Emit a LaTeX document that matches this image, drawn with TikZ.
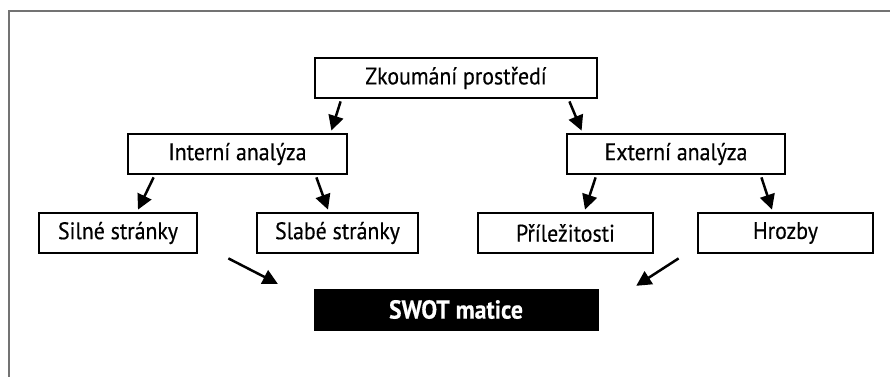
\documentclass[tikz,border=0pt]{standalone}
\usepackage{fontspec}
\setmainfont[FakeStretch=0.91,FakeBold=0.4,BoldFont={PT Sans Bold},BoldFeatures={FakeStretch=0.91}]{PT Sans}
\usetikzlibrary{arrows.meta}
\begin{document}
\begin{tikzpicture}[x=1pt,y=-1pt,
  box/.style={draw=black,line width=2.8pt,inner sep=0pt,minimum height=40pt,font=\fontsize{24}{28}\selectfont},
  conn/.style={line width=2.5pt,-{Triangle[length=15pt,width=15pt]}},
  frame/.style={draw=black!55,line width=1.5pt}]
\useasboundingbox (0,0) rectangle (890,376);
\draw[frame] (9,380) -- (9,11) -- (895,11);
\node[box,minimum width=282pt] (zk) at (456,78) {Zkoumání prostředí};
\node[box,minimum width=219pt] (int) at (237.5,154) {Interní analýza};
\node[box,minimum width=218pt] (ext) at (676,154) {Externí analýza};
\node[box,minimum width=158pt] (sil) at (118,233) {Silné stránky};
\node[box,minimum width=161pt] (sla) at (337.5,233) {Slabé stránky};
\node[box,minimum width=175pt] (pri) at (565.5,233) {Příležitosti};
\node[box,minimum width=175pt] (hro) at (785.5,233) {Hrozby};
\node[fill=black,draw=black,minimum width=284pt,minimum height=41pt,inner sep=0pt,
  text=white,font=\fontsize{26}{30}\selectfont\bfseries] (swot) at (456,309.5)
  {SWOT matice};
\draw[conn] ([xshift=27pt,yshift=-2pt]zk.south west) -- ([xshift=-17pt,yshift=2pt]int.north east);
\draw[conn] ([xshift=-29pt,yshift=-2pt]zk.south east) -- ([xshift=16pt,yshift=2pt]ext.north west);
\draw[conn] ([xshift=27pt,yshift=-2pt]int.south west) -- ([xshift=20pt,yshift=2pt]sil.north);
\draw[conn] ([xshift=-32pt,yshift=-2pt]int.south east) -- ([xshift=-9.5pt,yshift=2pt]sla.north);
\draw[conn] ([xshift=30pt,yshift=-2pt]ext.south west) -- ([xshift=19.5pt,yshift=2pt]pri.north);
\draw[conn] ([xshift=-25pt,yshift=-2pt]ext.south east) -- ([xshift=-13.5pt,yshift=2pt]hro.north);
\draw[conn] ([xshift=30pt,yshift=-4pt]sil.south east) -- ([xshift=-36pt,yshift=5pt]swot.north west);
\draw[conn] ([xshift=-18pt,yshift=-4pt]hro.south west) -- ([xshift=38pt,yshift=3pt]swot.north east);
\end{tikzpicture}
\end{document}
